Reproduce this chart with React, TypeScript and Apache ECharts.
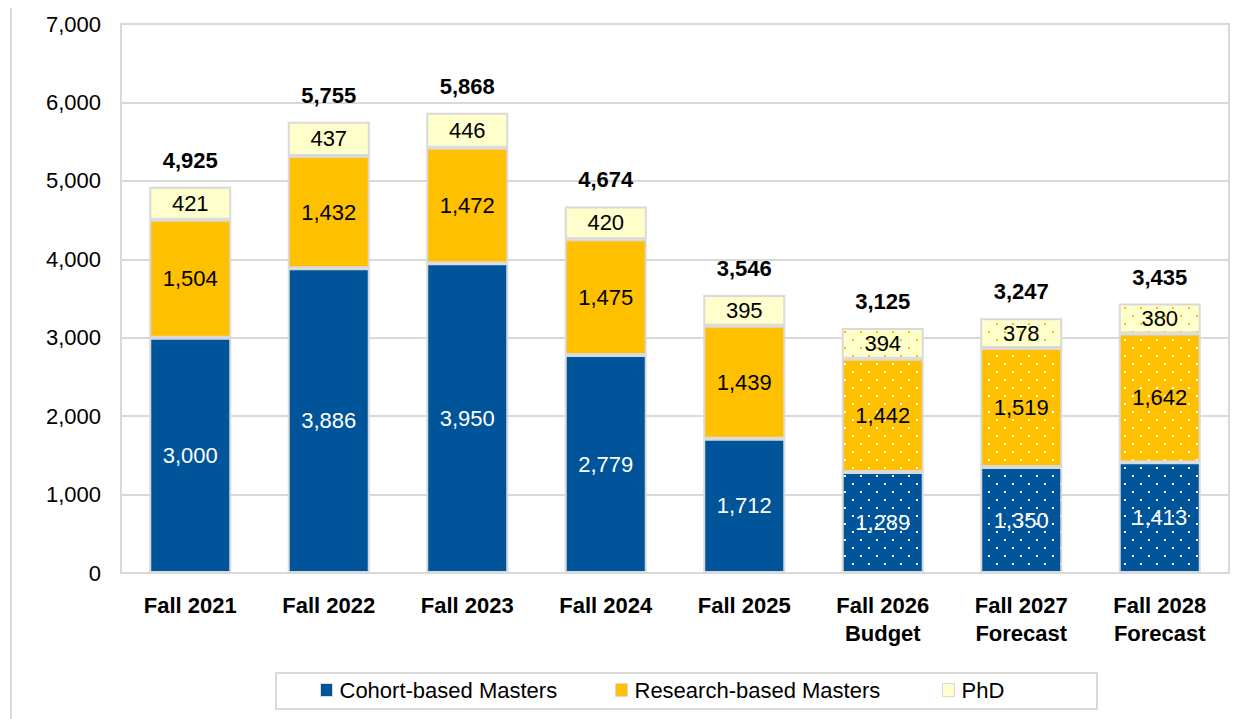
import React, { useEffect, useRef } from "react";
import * as echarts from "echarts";

const categories = [
  "Fall 2021",
  "Fall 2022",
  "Fall 2023",
  "Fall 2024",
  "Fall 2025",
  "Fall 2026\nBudget",
  "Fall 2027\nForecast",
  "Fall 2028\nForecast",
];
const cohortMasters = [3000, 3886, 3950, 2779, 1712, 1289, 1350, 1413];
const researchMasters = [1504, 1432, 1472, 1475, 1439, 1442, 1519, 1642];
const phd = [421, 437, 446, 420, 395, 394, 378, 380];
const totals = [4925, 5755, 5868, 4674, 3546, 3125, 3247, 3435];
const yTicks = [0, 1000, 2000, 3000, 4000, 5000, 6000, 7000];
// categories drawn with a dotted (projected) fill
const projected = [false, false, false, false, false, true, true, true];

const BLUE = "#00549A";
const GOLD = "#FFC000";
const CREAM = "#FFFFCC";
const GRAY = "#D9D9D9";
const FONT = "'Liberation Sans', Arial, sans-serif";

function makePattern(bg: string, dot: string): string {
  const c = document.createElement("canvas");
  c.width = 16;
  c.height = 16;
  const ctx = c.getContext("2d")!;
  ctx.fillStyle = bg;
  ctx.fillRect(0, 0, 16, 16);
  ctx.fillStyle = dot;
  ctx.fillRect(4, 3, 2, 2);
  ctx.fillRect(12, 11, 2, 2);
  return c.toDataURL();
}

const fmt = (v: number) => v.toLocaleString("en-US");

export default function App() {
  const ref = useRef<HTMLDivElement>(null);
  useEffect(() => {
    if (!ref.current) return;
    const chart = echarts.init(ref.current, undefined, { renderer: "svg" });
    const patBlue = makePattern(BLUE, "#FFFFFF");
    const patGold = makePattern(GOLD, "#FFFFFF");
    const patCream = makePattern(CREAM, GOLD);

    const mk = (vals: number[], pat: string) =>
      vals.map((v, i) =>
        projected[i]
          ? { value: v, itemStyle: { color: { image: pat, repeat: "repeat" } } }
          : { value: v }
      );

    const labelBase = {
      show: true,
      position: "inside",
      fontFamily: FONT,
      fontSize: 22,
      formatter: (p: any) => fmt(p.value),
    };

    const legendCommon = {
      icon: "rect",
      itemWidth: 12,
      itemHeight: 13,
      top: 679,
      padding: 0,
      itemStyle: { borderColor: GRAY, borderWidth: 1 },
      textStyle: { fontFamily: FONT, fontSize: 22, lineHeight: 22, color: "#000", padding: [0, 0, 0, 2] },
      selectedMode: false,
    };

    chart.setOption({
      animation: false,
      tooltip: { show: false },
      grid: { left: 121, right: 25, top: 24, bottom: 146, show: true, borderColor: GRAY, borderWidth: 2 },
      legend: [
        { ...legendCommon, left: 320, data: ["Cohort-based Masters"] },
        { ...legendCommon, left: 615, data: ["Research-based Masters"] },
        { ...legendCommon, left: 942, data: ["PhD"] },
      ],
      graphic: [
        {
          type: "rect",
          shape: { x: 11, y: 6, width: 1400, height: 900 },
          style: { fill: "none", stroke: GRAY, lineWidth: 2 },
          silent: true,
          z: -10,
        },
        {
          type: "rect",
          shape: { x: 276, y: 673, width: 821, height: 36 },
          style: { fill: "none", stroke: GRAY, lineWidth: 2 },
          silent: true,
        },
        {
          type: "text",
          x: 612,
          y: 6,
          style: {
            text: "Graduate Enrolment by Term by Program Type",
            fontFamily: FONT,
            fontSize: 20,
            fontWeight: "bold",
            fill: "#000",
            textAlign: "center",
            textVerticalAlign: "bottom",
          },
          silent: true,
        },
      ],
      xAxis: {
        type: "category",
        data: categories,
        axisTick: { show: false },
        axisLine: { show: true, lineStyle: { color: GRAY, width: 2 } },
        axisLabel: {
          color: "#000",
          fontFamily: FONT,
          fontSize: 22,
          fontWeight: "bold",
          margin: 18,
          lineHeight: 28,
          interval: 0,
        },
      },
      yAxis: {
        type: "value",
        min: 0,
        max: 7000,
        interval: 1000,
        axisLine: { show: false },
        axisTick: { show: false },
        splitLine: { lineStyle: { color: GRAY, width: 2 } },
        axisLabel: {
          color: "#000",
          fontFamily: FONT,
          fontSize: 22,
          margin: 20,
          formatter: (v: number) => (yTicks.includes(v) ? fmt(v) : ""),
        },
      },
      series: [
        {
          name: "Cohort-based Masters",
          type: "bar",
          stack: "total",
          barWidth: 82,
          data: mk(cohortMasters, patBlue),
          itemStyle: { color: BLUE, borderColor: GRAY, borderWidth: 2 },
          label: { ...labelBase, color: "#FFFFFF" },
        },
        {
          name: "Research-based Masters",
          type: "bar",
          stack: "total",
          barWidth: 82,
          data: mk(researchMasters, patGold),
          itemStyle: { color: GOLD, borderColor: GRAY, borderWidth: 2 },
          label: { ...labelBase, color: "#000" },
        },
        {
          name: "PhD",
          type: "bar",
          stack: "total",
          barWidth: 82,
          data: mk(phd, patCream),
          itemStyle: { color: CREAM, borderColor: GRAY, borderWidth: 2 },
          label: { ...labelBase, color: "#000" },
        },
        {
          name: "Total",
          type: "scatter",
          data: totals,
          symbolSize: 1,
          itemStyle: { color: "rgba(0,0,0,0)", opacity: 1 },
          label: {
            show: true,
            position: "top",
            distance: 15,
            color: "#000000",
            fontFamily: FONT,
            fontSize: 22,
            fontWeight: "bold",
            formatter: (p: any) => fmt(p.value),
          },
          z: 10,
        },
      ],
    });
    return () => chart.dispose();
  }, []);
  return (
    <div
      ref={ref}
      style={{ position: "fixed", left: -8, top: -8, width: 1254, height: 719, background: "#fff" }}
    />
  );
}
